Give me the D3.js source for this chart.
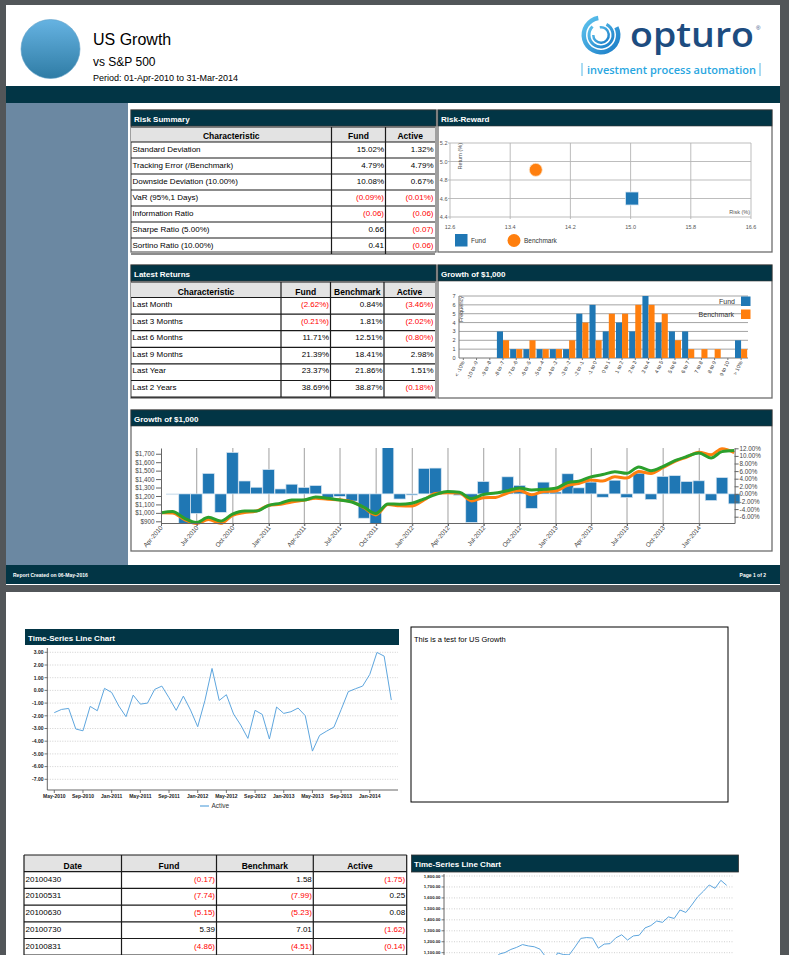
<!DOCTYPE html>
<html><head><meta charset="utf-8">
<script src="https://cdn.jsdelivr.net/npm/d3@7"></script>
<style>
html,body{margin:0;padding:0;background:#525659;overflow:hidden;}
svg{display:block;}
</style></head><body>
<svg id="chart" width="789" height="955"></svg>
<script>
// ================= DATA =================
const reportTitle = "US Growth";
const benchName = "vs S&P 500";
const periodText = "Period: 01-Apr-2010 to 31-Mar-2014";
const footerLeft = "Report Created on 06-May-2016";
const footerRight = "Page 1 of 2";

const riskHeaders = ["Characteristic", "Fund", "Active"];
const riskChars = ["Standard Deviation", "Tracking Error (/Benchmark)", "Downside Deviation (10.00%)", "VaR (95%,1 Days)", "Information Ratio", "Sharpe Ratio (5.00%)", "Sortino Ratio (10.00%)"];
const riskFund = [15.02, 4.79, 10.08, -0.09, -0.06, 0.66, 0.41];
const riskActive = [1.32, 4.79, 0.67, -0.01, -0.06, -0.07, -0.06];
const riskIsPct = [true, true, true, true, false, false, false];

const retHeaders = ["Characteristic", "Fund", "Benchmark", "Active"];
const retPeriods = ["Last Month", "Last 3 Months", "Last 6 Months", "Last 9 Months", "Last Year", "Last 2 Years"];
const retFund = [-2.62, -0.21, 11.71, 21.39, 23.37, 38.69];
const retBench = [0.84, 1.81, 12.51, 18.41, 21.86, 38.87];
const retActive = [-3.46, -2.02, -0.80, 2.98, 1.51, -0.18];

const rrNames = ["Fund", "Benchmark"];
const rrRisk = [15.02, 13.74];
const rrReturn = [4.60, 4.91];
const rrXTicks = [12.6, 13.4, 14.2, 15.0, 15.8, 16.6];
const rrYTicks = [4.4, 4.6, 4.8, 5.0, 5.2];

const histBins = ["< -10%", "-10 to -9", "-9 to -8", "-8 to -7", "-7 to -6", "-6 to -5", "-5 to -4", "-4 to -3", "-3 to -2", "-2 to -1", "-1 to 0", "0 to 1", "1 to 2", "2 to 3", "3 to 4", "4 to 5", "5 to 6", "6 to 7", "7 to 8", "8 to 9", "9 to 10", "> 10%"];
const histFund = [0, 0, 0, 3, 1, 1, 1, 1, 1, 5, 6, 3, 4, 3, 7, 4, 3, 3, 0, 0, 0, 2];
const histBench = [0, 0, 0, 2, 1, 2, 1, 1, 2, 4, 2, 5, 5, 6, 6, 5, 2, 1, 1, 1, 0, 1];

// monthly fund returns (%) Apr-2010 .. Mar-2014
const fundMonthly = [-0.17, -7.74, -5.15, 5.39, -4.86, 10.9, 3.4, 1.75, 6.4, 1.3, 2.55, 1.7,
  2.2, -1.05, -0.65, -1.9, -6.4, -7.9, 12.5, -1.35, -0.3, 6.7, 6.8, 0.6,
  -0.35, -7.5, 3.25, 0.35, 4.5, 2.25, -3.8, 3.1, 0.5, 5.3, 1.6, 3.1,
  -0.88, 3.6, -0.98, 5.45, -1.5, 4.6, 4.8, 3.25, 3.45, -1.75, 4.3, -2.62];
// cumulative active return (page 2 line chart)
const activeCumulative = [-1.75, -1.50, -1.42, -3.04, -3.18, -1.26, -1.60, 0.16, -0.16, -1.23, -2.07, -0.37,
  -1.08, -1.00, 0.08, 0.34, -0.58, -1.57, -0.45, -1.55, -2.86, -0.81, 1.73, -0.79,
  -0.34, -1.86, -2.73, -3.78, -1.57, -1.89, -3.83, -1.31, -1.81, -1.68, -1.39, -1.99,
  -4.78, -3.54, -3.20, -2.89, -1.52, -0.10, 0.13, 0.34, 1.26, 2.99, 2.70, -0.76];
const p2Labels = ["May-2010", "Sep-2010", "Jan-2011", "May-2011", "Sep-2011", "Jan-2012", "May-2012", "Sep-2012", "Jan-2013", "May-2013", "Sep-2013", "Jan-2014"];
const leftAxisDollars = [900, 1000, 1100, 1200, 1300, 1400, 1500, 1600, 1700];
const rightAxisPct = [-6, -4, -2, 0, 2, 4, 6, 8, 10, 12];
const p2YTicks = [-7, -6, -5, -4, -3, -2, -1, 0, 1, 2, 3];
const p2bYTicks = [1100, 1200, 1300, 1400, 1500, 1600, 1700, 1800];

const tblHeaders = ["Date", "Fund", "Benchmark", "Active"];
const tblDates = ["20100430", "20100531", "20100630", "20100730", "20100831"];
const tblFund = [-0.17, -7.74, -5.15, 5.39, -4.86];
const tblBench = [1.58, -7.99, -5.23, 7.01, -4.51];
const tblActive = [-1.75, 0.25, 0.08, -1.62, -0.14];
const noteText = "This is a test for US Growth";

// ================= SETUP =================
const FONT = '"Liberation Sans", Arial, Helvetica, sans-serif';
const DARK = "#023545";
const BLUE = "#1f77b4", ORANGE = "#ff7f0e", GREEN = "#2ca02c", RED = "#ff0000";
const svg = d3.select("#chart").style("font-family", FONT);

function txt(g, x, y, s, size, opts = {}) {
  const t = g.append("text").attr("x", x).attr("y", y).text(s)
    .attr("font-size", size).attr("fill", opts.fill || "#000")
    .attr("font-weight", opts.bold ? "bold" : "normal")
    .attr("text-anchor", opts.anchor || "start");
  if (opts.family) t.attr("font-family", opts.family);
  if (opts.transform) t.attr("transform", opts.transform);
  return t;
}
function fmtNum(v, pct) {
  const s = Math.abs(v).toFixed(2) + (pct ? "%" : "");
  return v < 0 ? "(" + s + ")" : s;
}

// backgrounds
svg.append("rect").attr("width", 789).attr("height", 955).attr("fill", "#525659");
svg.append("rect").attr("x", 6).attr("y", 5).attr("width", 774).attr("height", 580).attr("fill", "#fff");
svg.append("rect").attr("x", 6).attr("y", 592).attr("width", 774).attr("height", 370).attr("fill", "#fff");
svg.append("rect").attr("x", 6).attr("y", 86).attr("width", 774).attr("height", 17).attr("fill", DARK);
svg.append("rect").attr("x", 6).attr("y", 103).attr("width", 122).attr("height", 462).attr("fill", "#6b88a2");
svg.append("rect").attr("x", 6).attr("y", 565).attr("width", 774).attr("height", 19).attr("fill", DARK);
txt(svg, 13, 577, footerLeft, 5, { fill: "#fff", bold: true });
txt(svg, 766, 577, footerRight, 5, { fill: "#fff", bold: true, anchor: "end" });

// header
const defs = svg.append("defs");
const grad = defs.append("linearGradient").attr("id", "cg").attr("x1", 0).attr("y1", 0).attr("x2", 0).attr("y2", 1);
grad.append("stop").attr("offset", "0%").attr("stop-color", "#66b3e2");
grad.append("stop").attr("offset", "100%").attr("stop-color", "#2f7ca5");
svg.append("circle").attr("cx", 50.5).attr("cy", 49).attr("r", 29.5).attr("fill", "url(#cg)").attr("stroke", "#5d9ec6").attr("stroke-width", 0.6);
txt(svg, 93, 45, reportTitle, 16);
txt(svg, 93, 65.5, benchName, 12);
txt(svg, 93, 81, periodText, 9);

// logo
const lg = defs.append("linearGradient").attr("id", "lg").attr("x1", 0).attr("y1", 0).attr("x2", 1).attr("y2", 1);
lg.append("stop").attr("offset", "0%").attr("stop-color", "#63c8f0");
lg.append("stop").attr("offset", "100%").attr("stop-color", "#1577c4");
const arcGen = d3.arc();
const swirl = svg.append("g").attr("transform", "translate(601,35)");
[[15, 19.5, 0.35, 1.95], [10.5, 13.5, 0.15, 1.75], [6.5, 9, -0.05, 1.5]].forEach(a => {
  swirl.append("path").attr("d", arcGen({ innerRadius: a[0], outerRadius: a[1], startAngle: a[2] * Math.PI, endAngle: a[3] * Math.PI }))
    .attr("fill", "url(#lg)");
});
txt(svg, 630, 46.5, "opturo", 34, { fill: "#1d4c80", family: '"Open Sans", sans-serif', bold: true })
  .attr("textLength", 124).attr("lengthAdjust", "spacingAndGlyphs").attr("font-weight", 600);
txt(svg, 756, 30, "®", 6, { fill: "#1d4c80" });
txt(svg, 587, 73.5, "investment process automation", 10, { fill: "#29a6df", family: '"Open Sans", sans-serif' })
  .attr("font-weight", 600).attr("textLength", 169).attr("lengthAdjust", "spacingAndGlyphs");
[582, 760].forEach(x => svg.append("line").attr("x1", x).attr("x2", x).attr("y1", 63).attr("y2", 76).attr("stroke", "#29a6df").attr("stroke-width", 0.8));

// panel helper
function panel(x, y, w, h, title, border = true) {
  const g = svg.append("g");
  if (border) g.append("rect").attr("x", x).attr("y", y).attr("width", w).attr("height", h).attr("fill", "#fff").attr("stroke", "#6d6d6d").attr("stroke-width", 1.3);
  g.append("rect").attr("x", x).attr("y", y).attr("width", w).attr("height", 16).attr("fill", DARK).attr("stroke", "#333").attr("stroke-width", 0.6);
  txt(g, x + 3, y + 11.5, title, 8, { fill: "#fff", bold: true });
  return g;
}

// table helper
function table(edges, yTop, headH, rowH, headers, rows, fs, hfs, headBase, rowBase, outer) {
  const g = svg.append("g");
  const x0 = edges[0], x1 = edges[edges.length - 1];
  const yBot = yTop + headH + rowH * rows.length;
  g.append("rect").attr("x", x0).attr("y", yTop).attr("width", x1 - x0).attr("height", headH).attr("fill", "#e3e3e3");
  headers.forEach((hd, i) => txt(g, (edges[i] + edges[i + 1]) / 2, yTop + headBase, hd, hfs, { bold: true, anchor: "middle" }));
  rows.forEach((r, ri) => {
    const ry = yTop + headH + ri * rowH;
    r.forEach((c, ci) => {
      if (ci === 0) txt(g, edges[0] + 1.5, ry + rowBase, c.t, fs);
      else txt(g, edges[ci + 1] - 1.5, ry + rowBase, c.t, fs, { anchor: "end", fill: c.neg ? RED : "#000" });
    });
  });
  const lines = [yTop, yTop + headH];
  rows.forEach((r, ri) => lines.push(yTop + headH + (ri + 1) * rowH));
  lines.forEach(yy => g.append("line").attr("x1", x0).attr("x2", x1).attr("y1", yy).attr("y2", yy).attr("stroke", "#1a1a1a").attr("stroke-width", 1.2));
  edges.forEach((xx, i) => {
    if (!outer && (i === 0 || i === edges.length - 1)) return;
    g.append("line").attr("x1", xx).attr("x2", xx).attr("y1", yTop).attr("y2", yBot).attr("stroke", "#1a1a1a").attr("stroke-width", 1.2);
  });
  return g;
}

// ================= RISK SUMMARY =================
panel(131, 110, 305, 142, "Risk Summary");
table([131, 331.5, 385.5, 435], 127, 15, 16, riskHeaders,
  riskChars.map((c, i) => [{ t: c }, { t: fmtNum(riskFund[i], riskIsPct[i]), neg: riskFund[i] < 0 }, { t: fmtNum(riskActive[i], riskIsPct[i]), neg: riskActive[i] < 0 }]),
  8, 8.5, 12, 9.5, false);

// ================= LATEST RETURNS =================
panel(131, 265, 305, 133, "Latest Returns");
table([131, 281, 330.5, 384, 435], 282, 15.5, 16.6, retHeaders,
  retPeriods.map((c, i) => [{ t: c }, { t: fmtNum(retFund[i], true), neg: retFund[i] < 0 }, { t: fmtNum(retBench[i], true), neg: retBench[i] < 0 }, { t: fmtNum(retActive[i], true), neg: retActive[i] < 0 }]),
  8, 8.5, 12.5, 9.5, false);

// ================= RISK-REWARD =================
{
  const g = panel(438, 110, 334, 142, "Risk-Reward");
  const x = d3.scaleLinear().domain([12.6, 16.6]).range([450, 751]);
  const y = d3.scaleLinear().domain([4.4, 5.2]).range([217, 143]);
  rrXTicks.forEach(t => g.append("line").attr("x1", x(t)).attr("x2", x(t)).attr("y1", y(5.2)).attr("y2", y(4.4) + 2).attr("stroke", "#b5b5b5").attr("stroke-width", 0.9));
  rrYTicks.forEach(t => g.append("line").attr("x1", x(12.6) - 2).attr("x2", x(16.6)).attr("y1", y(t)).attr("y2", y(t)).attr("stroke", "#b5b5b5").attr("stroke-width", 0.9));
  rrXTicks.forEach(t => txt(g, x(t), 228.5, t.toFixed(1), 5.5, { anchor: "middle", fill: "#555" }));
  rrYTicks.forEach(t => txt(g, x(12.6) - 2.5, y(t) + 2, t.toFixed(1), 5.5, { anchor: "end", fill: "#555" }));
  txt(g, 462, 143, "Return (%)", 5.5, { fill: "#555", anchor: "end", transform: "rotate(-90,462,143)" });
  txt(g, 750, 214, "Risk (%)", 5.5, { fill: "#555", anchor: "end" });
  // fund square
  g.append("rect").attr("x", x(rrRisk[0]) - 6.5).attr("y", y(rrReturn[0]) - 6.5).attr("width", 13).attr("height", 13).attr("fill", BLUE).attr("stroke", "#d8e6f2").attr("stroke-width", 0.8);
  g.append("circle").attr("cx", x(rrRisk[1])).attr("cy", y(rrReturn[1])).attr("r", 6.5).attr("fill", ORANGE).attr("stroke", "#fde3c8").attr("stroke-width", 0.8);
  // legend
  g.append("rect").attr("x", 455).attr("y", 234).attr("width", 12.5).attr("height", 12.5).attr("fill", BLUE);
  txt(g, 471, 243, rrNames[0], 6.5, { fill: "#333" });
  g.append("circle").attr("cx", 514).attr("cy", 240.5).attr("r", 6.5).attr("fill", ORANGE);
  txt(g, 524, 243, rrNames[1], 6.5, { fill: "#333" });
}

// ================= HISTOGRAM =================
{
  const g = panel(438, 265, 334, 133, "Growth of $1,000");
  const x = d3.scaleBand().domain(histBins).range([456.7, 747.7]).paddingInner(0.08).paddingOuter(0.04);
  const sub = d3.scaleBand().domain(["f", "b"]).range([0, x.bandwidth()]);
  const y = d3.scaleLinear().domain([0, 7]).range([358, 296]);
  d3.range(1, 8).forEach(t => g.append("line").attr("x1", 459).attr("x2", 748).attr("y1", y(t)).attr("y2", y(t)).attr("stroke", "#9a9a9a").attr("stroke-width", 0.9));
  d3.range(0, 8).forEach(t => txt(g, 455.5, y(t) + 2, String(t), 5.5, { anchor: "end", fill: "#444" }));
  g.append("line").attr("x1", 459).attr("x2", 459).attr("y1", y(7)).attr("y2", y(0)).attr("stroke", "#777");
  g.append("line").attr("x1", 459).attr("x2", 748).attr("y1", y(0)).attr("y2", y(0)).attr("stroke", "#777");
  histBins.forEach((b, i) => {
    g.append("rect").attr("x", x(b) + sub("f")).attr("y", y(histFund[i])).attr("width", sub.bandwidth()).attr("height", y(0) - y(histFund[i])).attr("fill", BLUE);
    g.append("rect").attr("x", x(b) + sub("b")).attr("y", y(histBench[i])).attr("width", sub.bandwidth()).attr("height", y(0) - y(histBench[i])).attr("fill", ORANGE);
    const cx = x(b) + x.bandwidth() / 2;
    g.append("line").attr("x1", cx).attr("x2", cx).attr("y1", y(0)).attr("y2", y(0) + 2).attr("stroke", "#777");
    txt(g, cx + 1.5, y(0) + 4, b, 5.2, { anchor: "end", fill: "#333", transform: `rotate(-65,${cx + 1.5},${y(0) + 4})` });
  });
  txt(g, 462.5, 296, "Frequency", 5.5, { anchor: "end", fill: "#444", transform: "rotate(-90,462.5,296)" });
  g.append("rect").attr("x", 741).attr("y", 296.5).attr("width", 9.5).attr("height", 9.5).attr("fill", BLUE);
  txt(g, 735, 304, "Fund", 7, { anchor: "end", fill: "#333" });
  g.append("rect").attr("x", 741).attr("y", 309.5).attr("width", 9.5).attr("height", 9.5).attr("fill", ORANGE);
  txt(g, 734, 317, "Benchmark", 7, { anchor: "end", fill: "#333" });
}

// ================= DERIVED SERIES =================
const months = d3.timeMonth.range(new Date(2010, 3, 1), new Date(2014, 3, 1));
const monthEnds = months.map(m => d3.timeDay.offset(d3.timeMonth.offset(m, 1), -1));
const activeMonthly = activeCumulative.map((v, i) => i ? v - activeCumulative[i - 1] : v);
const benchMonthly = fundMonthly.map((f, i) => f - activeMonthly[i]);
function growth(rets) { let v = 1000; return rets.map(r => (v *= 1 + r / 100)); }
const fundGrowth = growth(fundMonthly);
const benchGrowth = growth(benchMonthly);

// ================= GROWTH OF $1,000 (big) =================
{
  const g = panel(131, 410, 641, 141, "Growth of $1,000");
  const start = new Date(2010, 3, 1), end = new Date(2014, 3, 1);
  const x = d3.scaleTime().domain([start, end]).range([161, 734.6]);
  const yL = d3.scaleLinear().domain([880, 1768]).range([523, 448]);
  const yR = d3.scaleLinear().domain([-7.66, 12.08]).range([523, 448]);
  const quarters = d3.timeMonth.every(3).range(start, end);
  // vertical grid
  quarters.slice(1).forEach(q => g.append("line").attr("x1", x(q)).attr("x2", x(q)).attr("y1", 448).attr("y2", 526).attr("stroke", "#a0a0a0").attr("stroke-width", 1));
  // bars
  defs.append("clipPath").attr("id", "bclip").append("rect").attr("x", 150).attr("y", 448).attr("width", 600).attr("height", 75);
  const bars = g.append("g").attr("clip-path", "url(#bclip)");
  fundMonthly.forEach((v, i) => {
    const cx = x(monthEnds[i]);
    bars.append("rect").attr("x", cx - 5.8).attr("width", 11.6)
      .attr("y", Math.min(yR(0), yR(v))).attr("height", Math.max(0.8, Math.abs(yR(v) - yR(0))))
      .attr("fill", Math.abs(v) < 0.3 ? "#a9c8e3" : BLUE).attr("stroke", "#d9e6f1").attr("stroke-width", 0.7);
  });
  // lines
  const pts = s => [[start, 1000]].concat(s.map((v, i) => [monthEnds[i], v]));
  const line = d3.line().x(d => x(d[0])).y(d => yL(d[1])).curve(d3.curveMonotoneX);
  g.append("path").attr("d", line(pts(fundGrowth))).attr("fill", "none").attr("stroke", ORANGE).attr("stroke-width", 3);
  g.append("path").attr("d", line(pts(benchGrowth))).attr("fill", "none").attr("stroke", GREEN).attr("stroke-width", 3);
  // axes
  const axL = g.append("g").attr("transform", "translate(161,0)")
    .call(d3.axisLeft(yL).tickValues(leftAxisDollars).tickFormat(d => "$" + d3.format(",")(d)).tickSize(5).tickSizeOuter(0));
  const axR = g.append("g").attr("transform", "translate(734.6,0)")
    .call(d3.axisRight(yR).tickValues(rightAxisPct).tickFormat(d => d.toFixed(2) + "%").tickSize(4).tickSizeOuter(0));
  const axB = g.append("g").attr("transform", "translate(0,523)")
    .call(d3.axisBottom(x).tickValues(quarters).tickFormat("").tickSize(3).tickSizeOuter(0));
  [axL, axR, axB].forEach(a => {
    a.attr("font-family", FONT).attr("font-size", 6.3);
    a.selectAll("path,line").attr("stroke", "#666");
    a.selectAll("text").attr("fill", "#444");
  });
  axL.selectAll("text").attr("x", -6.5);
  axR.selectAll("text").attr("x", 5);
  quarters.forEach(q => txt(g, x(q) + 2, 528, d3.timeFormat("%b-%Y")(q), 6.3, { anchor: "end", fill: "#444", transform: `rotate(-50,${x(q) + 2},528)` }));
}

// ================= PAGE 2: TIME-SERIES ACTIVE =================
{
  const g = svg.append("g");
  g.append("rect").attr("x", 25).attr("y", 629).attr("width", 374).attr("height", 16).attr("fill", DARK);
  txt(g, 28, 640.5, "Time-Series Line Chart", 8, { fill: "#fff", bold: true });
  const x = d3.scaleLinear().domain([0, activeCumulative.length - 1]).range([54.3, 391.3]);
  const y = d3.scaleLinear().domain([-7, 3]).range([779.3, 652.3]);
  p2YTicks.forEach(t => {
    g.append("line").attr("x1", 47.3).attr("x2", 398).attr("y1", y(t)).attr("y2", y(t)).attr("stroke", "#c4c4c4").attr("stroke-width", 0.8).attr("stroke-dasharray", "1,1.5");
    g.append("line").attr("x1", 44.5).attr("x2", 47.3).attr("y1", y(t)).attr("y2", y(t)).attr("stroke", "#555").attr("stroke-width", 0.8);
    txt(g, 43.5, y(t) + 1.8, t.toFixed(2), 5, { anchor: "end", bold: true, fill: "#222" });
  });
  g.append("line").attr("x1", 47.3).attr("x2", 47.3).attr("y1", 648).attr("y2", 790).attr("stroke", "#555").attr("stroke-width", 0.9);
  g.append("line").attr("x1", 47.3).attr("x2", 398).attr("y1", 790).attr("y2", 790).attr("stroke", "#555").attr("stroke-width", 0.9);
  p2Labels.forEach((l, k) => {
    const xx = x(k * 4);
    g.append("line").attr("x1", xx).attr("x2", xx).attr("y1", 790).attr("y2", 793).attr("stroke", "#555").attr("stroke-width", 0.8);
    txt(g, xx, 797.5, l, 5, { anchor: "middle", bold: true, fill: "#222" });
  });
  const line = d3.line().x((d, i) => x(i)).y(d => y(d));
  g.append("path").attr("d", line(activeCumulative)).attr("fill", "none").attr("stroke", "#5ea6de").attr("stroke-width", 1);
  g.append("line").attr("x1", 200).attr("x2", 209).attr("y1", 806).attr("y2", 806).attr("stroke", "#5ea6de").attr("stroke-width", 1.2);
  txt(g, 211.5, 808.3, "Active", 6.5, { fill: "#333" });

  // note box
  g.append("rect").attr("x", 411).attr("y", 627).attr("width", 317).attr("height", 175).attr("fill", "#fff").attr("stroke", "#000").attr("stroke-width", 1);
  txt(g, 414, 642, noteText, 7.5);
}

// ================= PAGE 2: TABLE =================
table([24, 121.5, 216.5, 313.3, 406.7], 855, 16.7, 16.7, tblHeaders,
  tblDates.map((d, i) => [{ t: d }, { t: fmtNum(tblFund[i], false), neg: tblFund[i] < 0 }, { t: fmtNum(tblBench[i], false), neg: tblBench[i] < 0 }, { t: fmtNum(tblActive[i], false), neg: tblActive[i] < 0 }]),
  8, 8.5, 13.5, 10, true);

// ================= PAGE 2: FUND GROWTH LINE =================
{
  const g = svg.append("g");
  g.append("rect").attr("x", 411.5).attr("y", 855).attr("width", 327).attr("height", 17).attr("fill", DARK).attr("stroke", "#333").attr("stroke-width", 0.8);
  txt(g, 414, 866.5, "Time-Series Line Chart", 8, { fill: "#fff", bold: true });
  const x = d3.scaleLinear().domain([0, fundGrowth.length - 1]).range([452.5, 726.7]);
  const y = d3.scaleLinear().domain([1100, 1800]).range([952.7, 876]);
  p2bYTicks.forEach(t => {
    g.append("line").attr("x1", 444).attr("x2", 733).attr("y1", y(t)).attr("y2", y(t)).attr("stroke", "#c4c4c4").attr("stroke-width", 0.8).attr("stroke-dasharray", "1,1.5");
    g.append("line").attr("x1", 441.5).attr("x2", 444).attr("y1", y(t)).attr("y2", y(t)).attr("stroke", "#555").attr("stroke-width", 0.8);
    txt(g, 440.5, y(t) + 1.5, d3.format(",.2f")(t), 4.3, { anchor: "end", bold: true, fill: "#222" });
  });
  g.append("line").attr("x1", 444).attr("x2", 444).attr("y1", 874).attr("y2", 960).attr("stroke", "#555").attr("stroke-width", 0.9);
  const line = d3.line().x((d, i) => x(i)).y(d => y(d));
  g.append("path").attr("d", line(fundGrowth)).attr("fill", "none").attr("stroke", "#5ea6de").attr("stroke-width", 1);
}
</script>
</body></html>
